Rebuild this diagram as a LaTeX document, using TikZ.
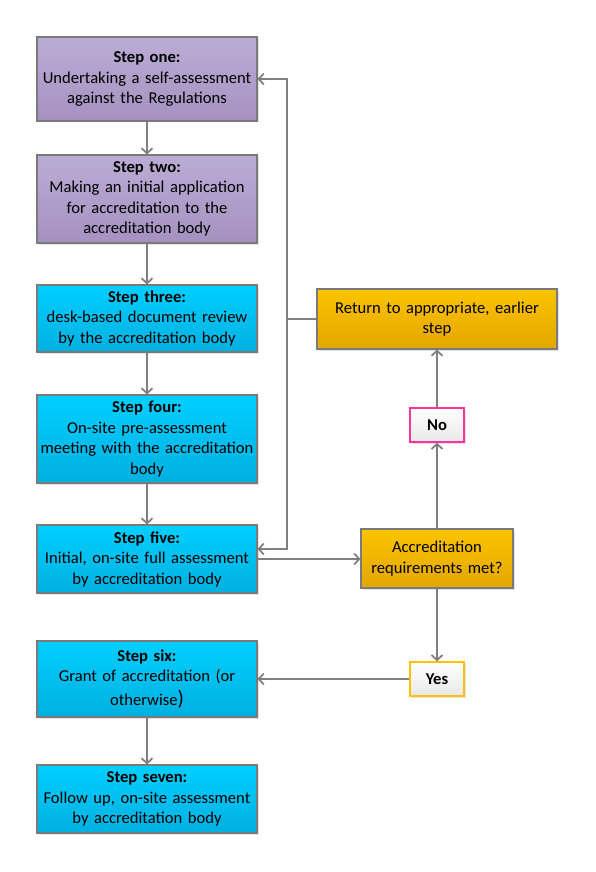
\documentclass[tikz,border=0pt]{standalone}
\usepackage{fontspec}
\setmainfont{Carlito}
\usetikzlibrary{arrows.meta,shadows}

\definecolor{lilactop}{HTML}{BBACD5}
\definecolor{lilacbot}{HTML}{A591C0}
\definecolor{cyantop}{HTML}{00CFFF}
\definecolor{cyanbot}{HTML}{00B0E0}
\definecolor{ambertop}{HTML}{FCC300}
\definecolor{amberbot}{HTML}{E3A600}
\definecolor{edgegray}{HTML}{7A7A7A}
\definecolor{linegray}{HTML}{7F7F7F}
\definecolor{nopink}{HTML}{FF3399}
\definecolor{yesgold}{HTML}{FFC000}

\tikzset{
  box/.style={draw=edgegray, line width=1.1pt, align=center, inner sep=0pt,
    font=\fontsize{16.6}{20.5}\selectfont,
    drop shadow={shadow xshift=1.5pt, shadow yshift=-1.5pt, fill=black!22}},
  stepbox/.style={box, minimum width=220pt, text width=216pt},
  lilac/.style={stepbox, top color=lilactop, bottom color=lilacbot},
  cyanbox/.style={stepbox, top color=cyantop, bottom color=cyanbot},
  amberbox/.style={box, top color=ambertop, bottom color=amberbot},
  answer/.style={box, line width=1.5pt, minimum width=54pt, minimum height=34pt,
    top color=white, bottom color=black!9, font=\fontsize{16.6}{18}\selectfont\bfseries},
  flow/.style={draw=linegray, line width=1.8pt,
    -{Straight Barb[length=5pt, width=11pt]}}
}

\begin{document}
\begin{tikzpicture}[x=1pt, y=-1pt]
  \useasboundingbox (0,0) rectangle (596,872);

  \node[lilac, minimum height=84pt] (one) at (147,79)
    {\textbf{Step one:}\\Undertaking a self-assessment\\against the Regulations};
  \node[lilac, minimum height=88pt] (two) at (147,199)
    {\textbf{Step two:}\\Making an initial application\\for accreditation to the\\accreditation body};
  \node[cyanbox, minimum height=67pt] (three) at (147,318.5)
    {\textbf{Step three:}\\desk-based document review\\by the accreditation body};
  \node[cyanbox, minimum height=88pt] (four) at (147,439)
    {\textbf{Step four:}\\On-site pre-assessment\\meeting with the accreditation\\body};
  \node[cyanbox, minimum height=68pt] (five) at (147,559)
    {\textbf{Step five:}\\Initial, on-site full assessment\\by accreditation body};
  \node[cyanbox, minimum height=76pt] (six) at (147,679)
    {\textbf{Step six:}\\Grant of accreditation (or\\[3pt]otherwise{\fontsize{21}{21}\selectfont)}};
  \node[cyanbox, minimum height=68pt] (seven) at (147,799)
    {\textbf{Step seven:}\\Follow up, on-site assessment\\by accreditation body};

  \node[amberbox, minimum width=240pt, minimum height=60pt, text width=230pt] (back) at (437,319)
    {Return to appropriate, earlier\\step};
  \node[answer, draw=nopink] (no) at (437,425) {No};
  \node[amberbox, minimum width=152pt, minimum height=59pt, text width=148pt] (check) at (437,558.5)
    {Accreditation\\requirements met?};
  \node[answer, draw=yesgold] (yes) at (437,679) {Yes};

  \coordinate (bus) at (287,319);

  \draw[flow] (one) -- (two);
  \draw[flow] (two) -- (three);
  \draw[flow] (three) -- (four);
  \draw[flow] (four) -- (five);
  \draw[flow] (five.east) -- (five.east -| check.west);
  \draw[flow] (check) -- (no);
  \draw[flow] (no) -- (back);
  \draw[flow] (check) -- (yes);
  \draw[flow] (yes) -- (six);
  \draw[flow] (six) -- (seven);
  \draw[draw=linegray, line width=1.8pt] (back.west) -- (bus);
  \draw[flow] (bus) |- (one.east);
  \draw[flow] (bus) |- ([yshift=10pt]five.east);
\end{tikzpicture}
\end{document}
